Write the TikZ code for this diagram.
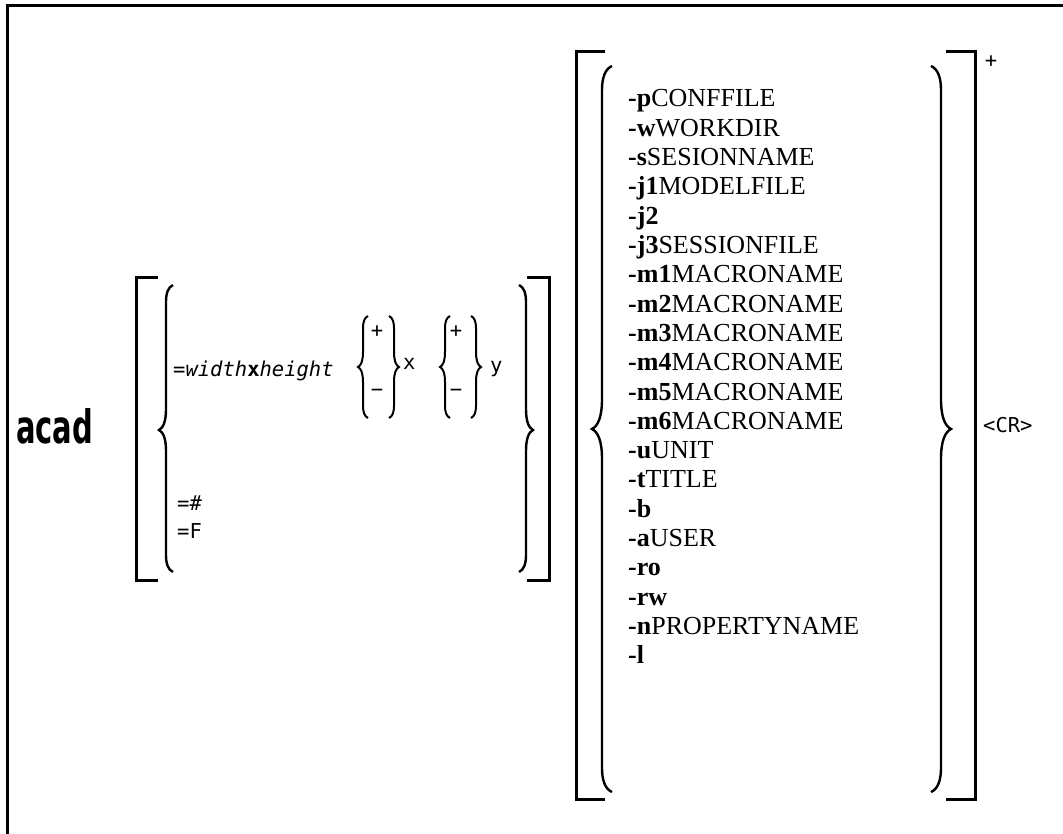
\documentclass[tikz,border=0pt]{standalone}
\usepackage{fontspec}
\setmainfont{Liberation Serif}
\newfontfamily\gothic{DejaVu Sans Mono}
\newfontfamily\acadfont[FakeStretch=0.63]{DejaVu Sans}

\tikzset{
  bracket/.style={line width=3pt},
  curl/.style={line width=2.4pt},
  smallcurl/.style={line width=2pt},
  opt/.style={anchor=base west, inner sep=0pt, font=\fontsize{26}{30}\selectfont},
  gtext/.style={anchor=base west, inner sep=0pt, font=\gothic\fontsize{20.5}{24}\selectfont},
  gsign/.style={inner sep=0pt, font=\gothic\fontsize{20.5}{24}\selectfont},
}

% curly brace: [style]{x of stem}{top}{middle}{bottom}{hook}{direction}
\newcommand{\curlbrace}[7][curl]{%
  \draw[#1] ({#2+(#7)*#6},#3) .. controls ({#2+(#7)*0.3*#6},{#3+0.3*#6}) and (#2,{#3+1.2*#6}) .. (#2,{#3+2.4*#6})
    -- (#2,{#4-3*#6}) .. controls (#2,{#4-1.2*#6}) and ({#2-(#7)*0.4*#6},{#4-0.3*#6}) .. ({#2-(#7)*#6},#4)
    .. controls ({#2-(#7)*0.4*#6},{#4+0.3*#6}) and (#2,{#4+1.2*#6}) .. (#2,{#4+3*#6})
    -- (#2,{#5-2.4*#6}) .. controls (#2,{#5-1.2*#6}) and ({#2+(#7)*0.3*#6},{#5-0.3*#6}) .. ({#2+(#7)*#6},#5);}

\begin{document}
\begin{tikzpicture}[x=1pt, y=-1pt]
    \useasboundingbox (0,0) rectangle (1063,834);

    % Frame
    \draw[bracket] (7,834) -- (7,5.5) -- (1063,5.5);

    % Command
    \node[anchor=base west, inner sep=0pt, font=\acadfont\bfseries\fontsize{46}{50}\selectfont] (acad) at (16,443) {acad};

    % Window geometry group
    \draw[bracket] (158,278) -- (136,278) -- (136,580) -- (158,580);
    \draw[bracket] (527,278) -- (549,278) -- (549,580) -- (527,580);
    \curlbrace{166}{285}{430}{572}{7}{1}
    \curlbrace{526}{285}{430}{572}{7}{-1}

    \node[gtext] (geom) at (173,377) {=\textit{width}\textbf{x}\textit{height}};

    \curlbrace[smallcurl]{363}{316}{367}{418}{5}{1}
    \curlbrace[smallcurl]{394}{316}{367}{418}{5}{-1}
    \node[gsign] (xplus) at (377,332) {+};
    \node[gsign] (xminus) at (377,393) {−};
    \node[gtext] (xlab) at (403,370) {x};

    \curlbrace[smallcurl]{445}{316}{367}{418}{5}{1}
    \curlbrace[smallcurl]{476}{316}{367}{418}{5}{-1}
    \node[gsign] (yplus) at (456,332) {+};
    \node[gsign] (yminus) at (456,393) {−};
    \node[gtext] (ylab) at (490,372) {y};

    \node[gtext] (hash) at (177,510) {=\#};
    \node[gtext] (fnt) at (177,538) {=F};

    % Option group
    \draw[bracket] (605,52) -- (576,52) -- (576,799) -- (605,799);
    \draw[bracket] (946,52) -- (975,52) -- (975,799) -- (946,799);
    \curlbrace{602}{66}{429}{792}{10}{1}
    \curlbrace{941}{66}{429}{792}{10}{-1}
    \node[gsign] (rep) at (991,62) {+};
    \node[gtext] (cr) at (983,432) {<CR>};

    \node[opt] (optp) at (628,107) {\textbf{-p}CONFFILE};
    \node[opt] (optw) at (628,136.3) {\textbf{-w}WORKDIR};
    \node[opt] (opts) at (628,165.6) {\textbf{-s}SESIONNAME};
    \node[opt] (optja) at (628,194.9) {\textbf{-j1}MODELFILE};
    \node[opt] (optjb) at (628,224.2) {\textbf{-j2}};
    \node[opt] (optjc) at (628,253.5) {\textbf{-j3}SESSIONFILE};
    \node[opt] (optma) at (628,282.8) {\textbf{-m1}MACRONAME};
    \node[opt] (optmb) at (628,312.1) {\textbf{-m2}MACRONAME};
    \node[opt] (optmc) at (628,341.4) {\textbf{-m3}MACRONAME};
    \node[opt] (optmd) at (628,370.7) {\textbf{-m4}MACRONAME};
    \node[opt] (optme) at (628,400) {\textbf{-m5}MACRONAME};
    \node[opt] (optmf) at (628,429.3) {\textbf{-m6}MACRONAME};
    \node[opt] (optu) at (628,458.6) {\textbf{-u}UNIT};
    \node[opt] (optt) at (628,487.9) {\textbf{-t}TITLE};
    \node[opt] (optb) at (628,517.2) {\textbf{-b}};
    \node[opt] (opta) at (628,546.5) {\textbf{-a}USER};
    \node[opt] (optro) at (628,575.8) {\textbf{-ro}};
    \node[opt] (optrw) at (628,605.1) {\textbf{-rw}};
    \node[opt] (optn) at (628,634.4) {\textbf{-n}PROPERTYNAME};
    \node[opt] (optl) at (628,663.7) {\textbf{-l}};
\end{tikzpicture}
\end{document}
